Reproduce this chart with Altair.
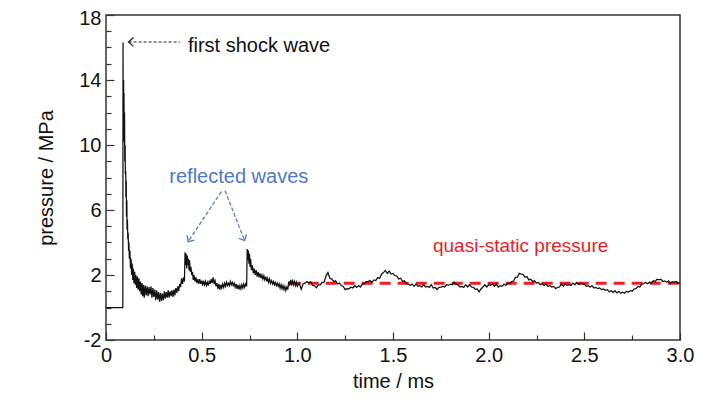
import altair as alt
import pandas as pd

# ---------------- data: pressure trace (time in ms, pressure in MPa) ----------------
onset_t = [0.000, 0.088, 0.089, 0.090, 0.092, 0.093, 0.094, 0.095, 0.097, 0.098,
           0.100, 0.101, 0.103, 0.104, 0.106, 0.107, 0.109, 0.110, 0.112, 0.114,
           0.116, 0.118, 0.120, 0.122, 0.125, 0.128, 0.131, 0.134, 0.137, 0.140,
           0.143, 0.146, 0.150, 0.153, 0.156, 0.160, 0.164, 0.168, 0.172, 0.176,
           0.180, 0.184, 0.188, 0.192, 0.196, 0.200]
onset_p = [0.0, 0.0, 16.3, 11.0, 14.0, 10.5, 13.2, 10.2, 12.0, 9.0,
           10.0, 8.2, 8.4, 6.8, 7.8, 5.6, 6.6, 4.8, 5.4, 4.2,
           4.6, 3.5, 4.0, 3.0, 3.5, 2.4, 3.0, 2.0, 2.7, 1.7,
           2.4, 1.5, 2.2, 1.4, 2.0, 1.2, 1.9, 1.1, 1.8, 1.0,
           1.6, 0.8, 1.5, 0.7, 1.4, 0.6]

trough_t = [0.205, 0.210, 0.215, 0.220, 0.225, 0.230, 0.235, 0.240, 0.245, 0.250,
            0.255, 0.260, 0.265, 0.270, 0.275, 0.280, 0.285, 0.290, 0.295, 0.300,
            0.305, 0.310, 0.315, 0.320, 0.325, 0.330, 0.335, 0.340, 0.345, 0.350,
            0.355, 0.360, 0.365, 0.370, 0.375, 0.380, 0.385, 0.390, 0.395, 0.400,
            0.405, 0.410]
trough_p = [1.35, 0.75, 1.30, 0.70, 1.25, 0.80, 1.30, 0.60, 1.20, 0.65,
            1.10, 0.45, 1.05, 0.50, 0.95, 0.35, 0.90, 0.40, 0.85, 0.45,
            1.00, 0.55, 0.95, 0.60, 1.05, 0.60, 1.00, 0.70, 1.05, 0.65,
            1.10, 0.75, 1.20, 0.90, 1.30, 1.00, 1.45, 1.25, 1.80, 1.45,
            1.85, 1.60]

refl1_t = [0.413, 0.416, 0.419, 0.422, 0.425, 0.428, 0.431, 0.434, 0.437, 0.440,
           0.444, 0.448, 0.452, 0.456, 0.460, 0.465,
           0.470, 0.475, 0.480, 0.485, 0.490, 0.495, 0.500, 0.505, 0.510, 0.515,
           0.520, 0.525, 0.530, 0.535, 0.540, 0.545, 0.550, 0.555, 0.560, 0.565,
           0.570, 0.575, 0.580, 0.585, 0.590, 0.595, 0.600, 0.605, 0.610, 0.615,
           0.620, 0.625, 0.630, 0.635, 0.640, 0.645, 0.650, 0.655, 0.660, 0.665,
           0.670, 0.675, 0.680, 0.685, 0.690, 0.695, 0.700, 0.705, 0.710, 0.715,
           0.720, 0.725, 0.730, 0.735]
refl1_p = [3.4, 2.6, 3.3, 2.4, 3.2, 2.6, 3.0, 2.3, 2.9, 2.2,
           2.5, 2.0, 2.2, 1.7, 2.0, 1.6,
           1.85, 1.5, 1.75, 1.45, 1.75, 1.45, 1.65, 1.35, 1.65, 1.4,
           1.6, 1.35, 1.55, 1.35, 1.65, 1.45, 1.75, 1.5, 1.85, 1.5,
           1.65, 1.3, 1.5, 1.15, 1.45, 1.1, 1.4, 1.2, 1.45, 1.25,
           1.5, 1.3, 1.55, 1.35, 1.5, 1.35, 1.6, 1.4, 1.55, 1.35,
           1.5, 1.25, 1.45, 1.15, 1.4, 1.1, 1.35, 1.15, 1.4, 1.2,
           1.45, 1.25, 1.45, 1.3]

refl2_t = [0.738, 0.741, 0.744, 0.747, 0.750, 0.753, 0.756, 0.760,
           0.765, 0.770, 0.775, 0.780, 0.785, 0.790, 0.795, 0.800, 0.805, 0.810,
           0.815, 0.820, 0.825, 0.830, 0.835, 0.840, 0.845, 0.850, 0.855, 0.860,
           0.865, 0.870, 0.875, 0.880, 0.885, 0.890, 0.895, 0.900, 0.905, 0.910,
           0.915, 0.920, 0.925, 0.930, 0.935, 0.940, 0.945, 0.950, 0.955, 0.960,
           0.965, 0.970, 0.975, 0.980, 0.985, 0.990, 0.995, 1.000]
refl2_p = [3.6, 2.9, 3.5, 2.7, 3.3, 2.5, 3.0, 2.3,
           2.6, 2.1, 2.4, 2.0, 2.3, 1.9, 2.2, 1.85, 2.1, 1.8,
           2.0, 1.75, 1.95, 1.7, 1.9, 1.6, 1.8, 1.55, 1.75, 1.5,
           1.65, 1.45, 1.6, 1.4, 1.55, 1.35, 1.5, 1.3, 1.45, 1.2,
           1.4, 1.15, 1.35, 1.1, 1.3, 1.05, 1.25, 1.1, 1.6, 1.35,
           1.7, 1.45, 1.65, 1.4, 1.6, 1.35, 1.55, 1.3]

late_t = [1.01, 1.02, 1.03, 1.04, 1.05, 1.06, 1.07, 1.08, 1.09, 1.10,
          1.11, 1.12, 1.13, 1.14, 1.15, 1.16, 1.17, 1.18, 1.19, 1.20,
          1.21, 1.22, 1.23, 1.24, 1.25, 1.26, 1.27, 1.28, 1.29, 1.30,
          1.31, 1.32, 1.33, 1.34, 1.35, 1.36, 1.37, 1.38, 1.39, 1.40,
          1.41, 1.42, 1.43, 1.44, 1.45, 1.46, 1.47, 1.48, 1.49, 1.50,
          1.51, 1.52, 1.53, 1.54, 1.55, 1.56, 1.57, 1.58, 1.59, 1.60,
          1.61, 1.62, 1.63, 1.64, 1.65, 1.66, 1.67, 1.68, 1.69, 1.70,
          1.71, 1.72, 1.73, 1.74, 1.75, 1.76, 1.77, 1.78, 1.79, 1.80,
          1.81, 1.82, 1.83, 1.84, 1.85, 1.86, 1.87, 1.88, 1.89, 1.90,
          1.91, 1.92, 1.93, 1.94, 1.95, 1.96, 1.97, 1.98, 1.99, 2.00,
          2.01, 2.02, 2.03, 2.04, 2.05, 2.06, 2.07, 2.08, 2.09, 2.10,
          2.11, 2.12, 2.13, 2.14, 2.15, 2.16, 2.17, 2.18, 2.19, 2.20,
          2.21, 2.22, 2.23, 2.24, 2.25, 2.26, 2.27, 2.28, 2.29, 2.30,
          2.31, 2.32, 2.33, 2.34, 2.35, 2.36, 2.37, 2.38, 2.39, 2.40,
          2.41, 2.42, 2.43, 2.44, 2.45, 2.46, 2.47, 2.48, 2.49, 2.50,
          2.51, 2.52, 2.53, 2.54, 2.55, 2.56, 2.57, 2.58, 2.59, 2.60,
          2.61, 2.62, 2.63, 2.64, 2.65, 2.66, 2.67, 2.68, 2.69, 2.70,
          2.71, 2.72, 2.73, 2.74, 2.75, 2.76, 2.77, 2.78, 2.79, 2.80,
          2.81, 2.82, 2.83, 2.84, 2.85, 2.86, 2.87, 2.88, 2.89, 2.90,
          2.91, 2.92, 2.93, 2.94, 2.95, 2.96, 2.97, 2.98, 2.99, 3.00]
late_p = [1.50, 1.12, 1.45, 1.50, 1.60, 1.52, 1.58, 1.36, 1.34, 1.22,
          1.40, 1.40, 1.55, 1.56, 1.95, 2.15, 1.80, 1.75, 1.60, 1.65,
          1.45, 1.50, 1.35, 1.30, 1.10, 1.16, 1.15, 1.25, 1.20, 1.34,
          1.24, 1.35, 1.26, 1.45, 1.46, 1.60, 1.60, 1.66, 1.55, 1.70,
          1.66, 1.84, 1.80, 2.05, 2.15, 2.28, 2.10, 2.24, 2.06, 2.10,
          1.96, 1.94, 1.76, 1.80, 1.60, 1.64, 1.46, 1.44, 1.36, 1.44,
          1.30, 1.44, 1.30, 1.34, 1.26, 1.40, 1.26, 1.30, 1.24, 1.40,
          1.20, 1.24, 1.10, 1.24, 1.26, 1.30, 1.26, 1.40, 1.36, 1.44,
          1.40, 1.55, 1.42, 1.40, 1.26, 1.30, 1.24, 1.40, 1.26, 1.40,
          1.26, 1.24, 1.12, 1.14, 0.96, 1.14, 1.26, 1.40, 1.26, 1.40,
          1.36, 1.44, 1.30, 1.44, 1.26, 1.34, 1.30, 1.44, 1.36, 1.50,
          1.46, 1.60, 1.62, 1.85, 1.86, 2.10, 2.06, 2.04, 1.86, 1.90,
          1.70, 1.74, 1.60, 1.64, 1.50, 1.54, 1.40, 1.48, 1.36, 1.44,
          1.30, 1.34, 1.26, 1.30, 1.16, 1.24, 1.26, 1.44, 1.30, 1.44,
          1.36, 1.40, 1.36, 1.50, 1.40, 1.54, 1.42, 1.50, 1.46, 1.44,
          1.30, 1.34, 1.26, 1.34, 1.20, 1.24, 1.16, 1.20, 1.10, 1.14,
          1.06, 1.10, 0.96, 1.04, 0.92, 1.04, 0.90, 1.00, 0.88, 0.94,
          0.88, 1.00, 0.94, 1.04, 1.00, 1.14, 1.16, 1.30, 1.26, 1.44,
          1.46, 1.55, 1.46, 1.56, 1.50, 1.64, 1.60, 1.74, 1.70, 1.74,
          1.60, 1.64, 1.56, 1.64, 1.50, 1.58, 1.56, 1.60, 1.48, 1.55]

for a, b in [(onset_t, onset_p), (trough_t, trough_p), (refl1_t, refl1_p),
             (refl2_t, refl2_p), (late_t, late_p)]:
    assert len(a) == len(b), (len(a), len(b))

time_ms = onset_t + trough_t + refl1_t + refl2_t + late_t
pressure_mpa = onset_p + trough_p + refl1_p + refl2_p + late_p

# quasi-static pressure level
qsp_t = [0.96, 3.0]
qsp_p = [1.5, 1.5]

# axis ticks
x_major = [0, 0.5, 1.0, 1.5, 2.0, 2.5, 3.0]
x_minor = [0.25, 0.75, 1.25, 1.75, 2.25, 2.75]
y_major = [-2, 2, 6, 10, 14, 18]
y_minor = [-1, 0, 1, 3, 4, 5, 7, 8, 9, 11, 12, 13, 15, 16, 17]

# annotations
shock_label = "first shock wave"
refl_label = "reflected waves"
qsp_label = "quasi-static pressure"
shock_arrow_t = [0.386, 0.118]
shock_arrow_p = [16.34, 16.34]
refl_arrow_t0 = [0.603, 0.622]
refl_arrow_p0 = [7.13, 7.19]
refl_arrow_t1 = [0.429, 0.725]
refl_arrow_p1 = [4.05, 4.11]
refl_arrow_angle = [124, 64]

FONT = "Liberation Sans, Arial"
BLUE = "#4f78c8"
RED = "#ee1c25"

xs = alt.Scale(domain=[0, 3], nice=False, zero=False)
ys = alt.Scale(domain=[-2, 18], nice=False, zero=False)

df = pd.DataFrame({"t": time_ms, "p": pressure_mpa})

line = alt.Chart(df).mark_line(color="#111111", strokeWidth=1.25).encode(
    x=alt.X("t:Q", scale=xs, axis=alt.Axis(
        orient="bottom", values=x_major, tickSize=8, offset=-8, domain=False, grid=False,
        labelExpr="datum.value == 0 ? '0' : format(datum.value, '.1f')",
        labelPadding=5, labelFlush=False, labelOverlap=False,
        title="time / ms", titlePadding=6)),
    y=alt.Y("p:Q", scale=ys, axis=alt.Axis(
        orient="left", values=y_major, tickSize=8, offset=-8, domain=False, grid=False,
        labelExpr="'' + datum.value", labelPadding=5, labelFlush=False, labelOverlap=False,
        labelOffset={"condition": {"test": "datum.value == 18", "value": 3}, "value": 0},
        title="pressure / MPa", titlePadding=22)),
)

minor_x = alt.Chart(pd.DataFrame({"mx": x_minor})).mark_point(opacity=0).encode(
    x=alt.X("mx:Q", scale=xs, axis=alt.Axis(
        orient="bottom", values=x_minor, tickSize=5, offset=-5, domain=False, grid=False,
        labels=False, title=None)),
)
minor_y = alt.Chart(pd.DataFrame({"my": y_minor})).mark_point(opacity=0).encode(
    y=alt.Y("my:Q", scale=ys, axis=alt.Axis(
        orient="left", values=y_minor, tickSize=5, offset=-5, domain=False, grid=False,
        labels=False, title=None)),
)

qsp = alt.Chart(pd.DataFrame({"t": qsp_t, "p": qsp_p})).mark_line(
    color=RED, strokeWidth=3, strokeDash=[11, 7]).encode(
    x=alt.X("t:Q", scale=xs, axis=None), y=alt.Y("p:Q", scale=ys, axis=None))

shock_arrow = alt.Chart(pd.DataFrame({"t": shock_arrow_t, "p": shock_arrow_p})).mark_line(
    color="#222222", strokeWidth=1.2, strokeDash=[3, 2]).encode(
    x=alt.X("t:Q", scale=xs, axis=None), y=alt.Y("p:Q", scale=ys, axis=None))

CHEVRON = "M -1 -0.9 L 0 0 L -1 0.9"
shock_head = alt.Chart(pd.DataFrame({"t": [shock_arrow_t[1]], "p": [shock_arrow_p[1]], "a": [180]})).mark_point(
    shape=CHEVRON, filled=False, color="#222222", strokeWidth=1.3, size=95, opacity=1).encode(
    x=alt.X("t:Q", scale=xs, axis=None), y=alt.Y("p:Q", scale=ys, axis=None),
    angle=alt.Angle("a:Q", scale=None))

refl_df = pd.DataFrame({"t0": refl_arrow_t0, "p0": refl_arrow_p0, "t1": refl_arrow_t1,
                        "p1": refl_arrow_p1, "a": refl_arrow_angle})
refl_arrows = alt.Chart(refl_df).mark_rule(color=BLUE, strokeWidth=1.2, strokeDash=[4, 2]).encode(
    x=alt.X("t0:Q", scale=xs, axis=None), y=alt.Y("p0:Q", scale=ys, axis=None),
    x2="t1:Q", y2="p1:Q")
refl_heads = alt.Chart(refl_df).mark_point(
    shape=CHEVRON, filled=False, color=BLUE, strokeWidth=1.3, size=95, opacity=1).encode(
    x=alt.X("t1:Q", scale=xs, axis=None), y=alt.Y("p1:Q", scale=ys, axis=None),
    angle=alt.Angle("a:Q", scale=None))

def label(text, t, p, color, align, size):
    return alt.Chart(pd.DataFrame({"t": [t], "p": [p], "s": [text]})).mark_text(
        font=FONT, fontSize=size, color=color, align=align, baseline="alphabetic").encode(
        x=alt.X("t:Q", scale=xs, axis=None), y=alt.Y("p:Q", scale=ys, axis=None), text="s:N")

texts = [label(shock_label, 0.428, 15.74, "#111111", "left", 20),
         label(refl_label, 0.694, 7.66, BLUE, "center", 20),
         label(qsp_label, 2.167, 3.42, RED, "center", 19)]

chart = alt.layer(qsp, line, minor_x, minor_y, shock_arrow, shock_head,
                  refl_arrows, refl_heads, *texts).resolve_axis(
    x="independent", y="independent"
).properties(
    width=574, height=325,
    autosize=alt.AutoSizeParams(type="none"),
    padding={"left": 98, "top": 7, "right": 40, "bottom": 51},
).configure_view(
    stroke="#333333", strokeWidth=1.5
).configure_axis(
    labelFont=FONT, titleFont=FONT, labelFontSize=20, titleFontSize=20,
    labelColor="#111111", titleColor="#111111", titleFontWeight="normal",
    tickColor="#333333", tickWidth=1.2,
)

chart.save("out.html", embed_options={"renderer": "svg", "actions": False})
